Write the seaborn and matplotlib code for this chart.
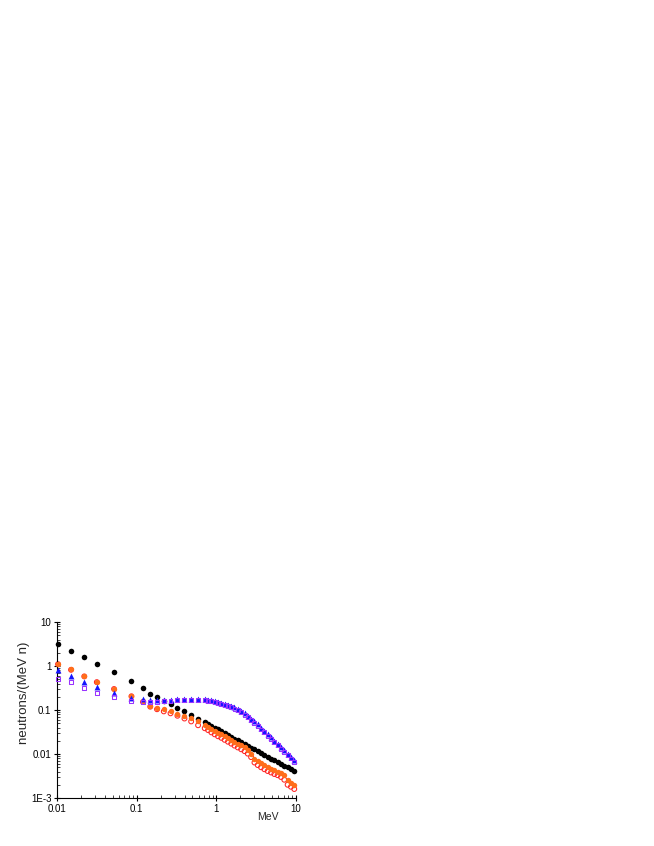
import matplotlib
matplotlib.use("Agg")
import matplotlib.pyplot as plt
import matplotlib.ticker as mticker
import seaborn as sns

sns.set_style("white")
plt.rcParams['font.family'] = ['Liberation Sans', 'DejaVu Sans']

# neutron energy (MeV)
E_low = [0.0103, 0.015, 0.022, 0.0316, 0.052, 0.086, 0.12, 0.148, 0.18]
E_mid = [0.219, 0.266, 0.325, 0.398, 0.483, 0.59]
E_dense = [0.715, 0.787, 0.866, 0.953, 1.05, 1.155, 1.27, 1.40, 1.54, 1.69,
           1.86, 2.05, 2.26, 2.48, 2.73, 3.01, 3.31, 3.64, 4.01, 4.41,
           4.86, 5.35, 5.88, 6.48, 7.13, 7.85, 8.64, 9.51]
energy = E_low + E_mid + E_dense

# spectra, neutrons/(MeV n)
black = [3.16, 2.23, 1.58, 1.11, 0.73, 0.456, 0.311, 0.235, 0.194,
         0.163, 0.134, 0.111, 0.095, 0.078, 0.064,
         0.053, 0.0482, 0.0438, 0.0398, 0.0362, 0.033, 0.030, 0.0273, 0.0248, 0.0225,
         0.0205, 0.0187, 0.0170, 0.0154, 0.0140, 0.0128, 0.0116, 0.0106, 0.0096, 0.0087,
         0.0079, 0.0072, 0.0066, 0.0060, 0.0054, 0.0050, 0.0045, 0.0041]
orange = [1.13, 0.84, 0.593, 0.44, 0.305, 0.211, 0.158, 0.125, 0.113,
          0.105, 0.094, 0.083, 0.074, 0.066, 0.055,
          0.045, 0.041, 0.037, 0.0335, 0.0305, 0.028, 0.0255, 0.023, 0.021, 0.019,
          0.0172, 0.0157, 0.0141, 0.0124, 0.0102, 0.0078, 0.0069, 0.0062, 0.0056, 0.0050,
          0.0046, 0.0043, 0.0040, 0.0037, 0.0033, 0.0025, 0.0022, 0.0020]
red = [1.10, 0.82, 0.58, 0.43, 0.30, 0.205, 0.152, 0.119, 0.104,
       0.093, 0.084, 0.074, 0.064, 0.055, 0.045,
       0.0385, 0.035, 0.031, 0.028, 0.0253, 0.0233, 0.021, 0.019, 0.0172, 0.0155,
       0.0141, 0.0128, 0.0116, 0.0102, 0.0085, 0.0064, 0.0056, 0.0050, 0.0045, 0.0041,
       0.0038, 0.0035, 0.0033, 0.0030, 0.0026, 0.0020, 0.0018, 0.0016]
blue = [0.824, 0.583, 0.44, 0.328, 0.243, 0.187, 0.175, 0.169, 0.169,
        0.172, 0.172, 0.174, 0.176, 0.178, 0.178,
        0.176, 0.172, 0.167, 0.161, 0.154, 0.147, 0.139, 0.131, 0.123, 0.114,
        0.105, 0.095, 0.084, 0.074, 0.064, 0.055, 0.047, 0.040, 0.034, 0.029,
        0.024, 0.020, 0.017, 0.0143, 0.0121, 0.0102, 0.0086, 0.0072]
purple = [0.507, 0.426, 0.311, 0.247, 0.198, 0.158, 0.154, 0.15, 0.15,
          0.163, 0.163, 0.165, 0.167, 0.169, 0.170,
          0.168, 0.164, 0.159, 0.153, 0.146, 0.139, 0.131, 0.123, 0.116, 0.107,
          0.098, 0.088, 0.078, 0.069, 0.059, 0.051, 0.043, 0.036, 0.031, 0.026,
          0.022, 0.0185, 0.0157, 0.0132, 0.0112, 0.0094, 0.0079, 0.0066]

xticks = [0.01, 0.1, 1, 10]
xtick_labels = ['0.01', '0.1', '1', '10']
yticks = [1e-3, 0.01, 0.1, 1, 10]
ytick_labels = ['1E-3', '0.01', '0.1', '1', '10']

fig = plt.figure(figsize=(6.54, 8.46), dpi=100)
ax = fig.add_axes([57 / 654, 48 / 846, 239 / 654, 176 / 846])

# red open circles sit under the orange ones
sns.scatterplot(x=energy, y=red, marker='o', facecolor='none', edgecolor='#ff2424',
                s=12, linewidth=0.75, ax=ax, clip_on=False, zorder=2)
sns.scatterplot(x=energy, y=black, marker='o', color='black', s=16, linewidth=0, ax=ax, clip_on=False, zorder=3)
sns.scatterplot(x=energy, y=orange, marker='o', color='#ff6e1a', s=15, linewidth=0, ax=ax, clip_on=False, zorder=3)
sns.scatterplot(x=energy, y=blue, marker='^', color='#1414ff', s=18, linewidth=0, ax=ax, clip_on=False, zorder=3)
sns.scatterplot(x=energy, y=purple, marker='s', facecolor='none', edgecolor='#9933ff',
                s=8, linewidth=0.75, ax=ax, clip_on=False, zorder=4)

ax.set_xscale('log')
ax.set_yscale('log')
ax.set_xlim(0.01, 10)
ax.set_ylim(1e-3, 10)
ax.set_xticks(xticks)
ax.set_xticklabels(xtick_labels)
ax.set_yticks(yticks)
ax.set_yticklabels(ytick_labels)
ax.xaxis.set_minor_locator(mticker.LogLocator(base=10, subs=range(2, 10)))
ax.yaxis.set_minor_locator(mticker.LogLocator(base=10, subs=range(2, 10)))
ax.xaxis.set_minor_formatter(mticker.NullFormatter())
ax.yaxis.set_minor_formatter(mticker.NullFormatter())

ax.tick_params(which='major', direction='inout', length=4, width=0.8, labelsize=7, pad=2, colors='black')
ax.tick_params(which='minor', direction='in', length=2, width=0.6)
ax.tick_params(axis='x', which='both', bottom=True, top=False)
ax.tick_params(axis='y', which='both', left=True, right=False)

sns.despine(ax=ax)
for side in ['left', 'bottom']:
    ax.spines[side].set_color('black')
    ax.spines[side].set_linewidth(0.8)

ax.set_xlabel('MeV', fontsize=7.5)
ax.xaxis.set_label_coords(0.883, -0.08)
ax.set_ylabel('neutrons/(MeV n)', fontsize=9.5)
ax.yaxis.set_label_coords(-0.115, 0.60)

fig.savefig('out.png', dpi=100)
